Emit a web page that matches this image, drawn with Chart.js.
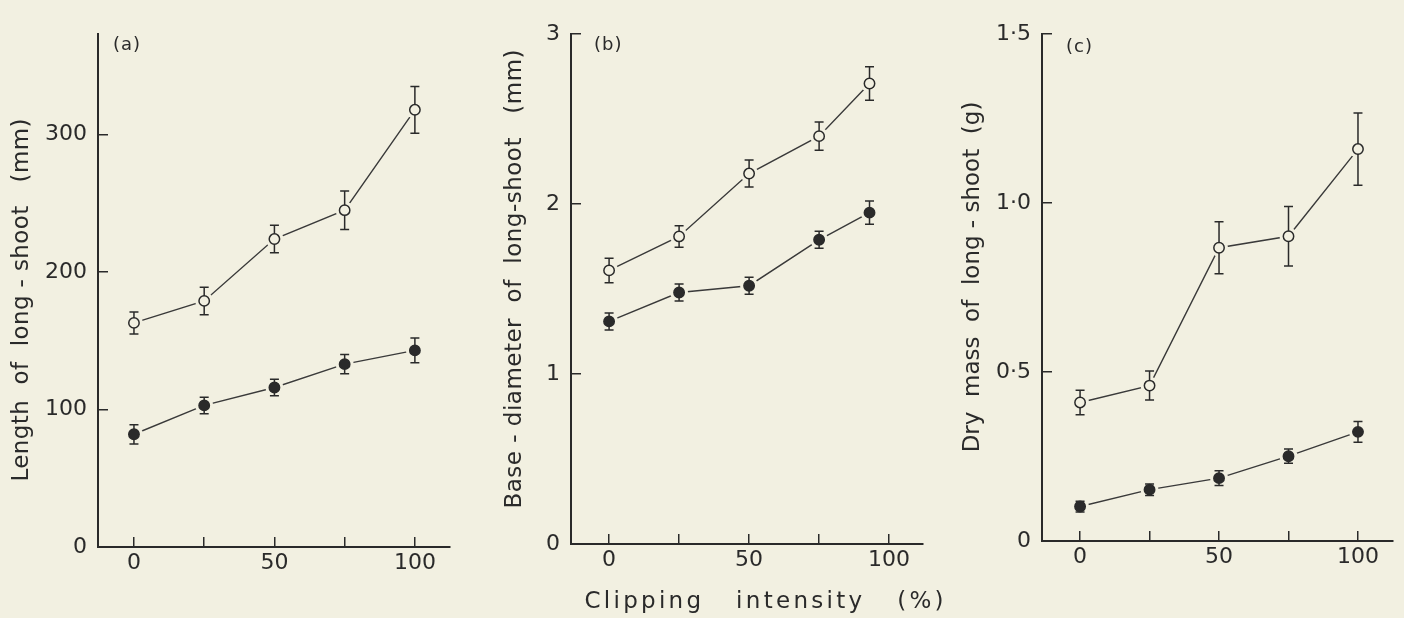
<!DOCTYPE html>
<html>
<head>
<meta charset="utf-8">
<script src="https://cdn.jsdelivr.net/npm/chart.js@4/dist/chart.umd.min.js"></script>
<style>
  html, body { margin: 0; padding: 0; background: #f2f0e1; }
  #wrap { position: relative; width: 1404px; height: 618px; overflow: hidden; }
  canvas { position: absolute; left: 0; top: 0; }
</style>
</head>
<body>
<div id="wrap">
  <canvas id="panelA" width="1404" height="618"></canvas>
  <canvas id="panelB" width="1404" height="618"></canvas>
  <canvas id="panelC" width="1404" height="618"></canvas>
</div>
<script>
// clipping intensity (%)
const clipX = [0, 25, 50, 75, 100];
const clipXB = [0, 25, 50, 75, 93];   // last points of (b) sit left of 100
const xTickValues = [0, 25, 50, 75, 100];
const xTickLabels = ['0', '', '50', '', '100'];

// (a) length of long-shoot (mm)
const lengthOpen = [163, 179, 224, 245, 318];
const lengthOpenErr = [8, 10, 10, 14, 17];
const lengthFilled = [82, 103, 116, 133, 143];
const lengthFilledErr = [7, 6, 6, 7, 9];
const lengthTicks = [0, 100, 200, 300];
const lengthTickLabels = ['0', '100', '200', '300'];

// (b) base-diameter of long-shoot (mm)
const diamOpen = [1.61, 1.81, 2.18, 2.40, 2.71];
const diamOpenErr = [0.072, 0.063, 0.079, 0.083, 0.098];
const diamFilled = [1.31, 1.48, 1.52, 1.79, 1.95];
const diamFilledErr = [0.05, 0.05, 0.05, 0.05, 0.068];
const diamTicks = [0, 1, 2, 3];
const diamTickLabels = ['0', '1', '2', '3'];

// (c) dry mass of long-shoot (g)
const massOpen = [0.41, 0.46, 0.868, 0.902, 1.16];
const massOpenErr = [0.036, 0.043, 0.077, 0.088, 0.107];
const massFilled = [0.102, 0.152, 0.186, 0.251, 0.323];
const massFilledErr = [0.016, 0.017, 0.022, 0.021, 0.031];
const massTicks = [0, 0.5, 1, 1.5];
const massTickLabels = ['0', '0\u00b75', '1\u00b70', '1\u00b75'];

const xTitle = 'Clipping   intensity   (%)';

const ink = '#2a2a2a';
const paper = '#f2f0e1';
const family = '"DejaVu Sans", sans-serif';

function pts(xs, ys) { return xs.map((x, i) => ({ x: x, y: ys[i] })); }

function spacedText(ctx, text, x, y, rot, font, span) {
  ctx.save();
  ctx.font = font;
  ctx.letterSpacing = '0px';
  const w = ctx.measureText(text).width;
  const ls = Math.max(0, (span - w) / (text.length - 1));
  ctx.letterSpacing = ls + 'px';
  ctx.fillStyle = ink;
  ctx.translate(x, y);
  ctx.rotate(rot);
  ctx.textAlign = 'center';
  ctx.textBaseline = 'middle';
  ctx.fillText(text, ls / 2, 0);
  ctx.restore();
}

// error bars (drawn from the marker edge outwards) + titles
const panelDecor = {
  id: 'panelDecor',
  afterDatasetsDraw(chart) {
    const ctx = chart.ctx, ys = chart.scales.y;
    ctx.save();
    ctx.strokeStyle = ink;
    ctx.lineWidth = 1.5;
    chart.data.datasets.forEach((ds, i) => {
      if (!ds.errors) return;
      chart.getDatasetMeta(i).data.forEach((pt, j) => {
        const v = ds.data[j].y, e = ds.errors[j];
        const top = ys.getPixelForValue(v + e), bot = ys.getPixelForValue(v - e);
        const r = 5;
        ctx.beginPath();
        if (pt.y - top > r) { ctx.moveTo(pt.x, pt.y - r); ctx.lineTo(pt.x, top); }
        if (bot - pt.y > r) { ctx.moveTo(pt.x, pt.y + r); ctx.lineTo(pt.x, bot); }
        ctx.moveTo(pt.x - 4.5, top); ctx.lineTo(pt.x + 4.5, top);
        ctx.moveTo(pt.x - 4.5, bot); ctx.lineTo(pt.x + 4.5, bot);
        ctx.stroke();
      });
    });
    ctx.restore();
  },
  afterDraw(chart, args, o) {
    const ctx = chart.ctx, area = chart.chartArea;
    spacedText(ctx, o.yTitle, area.left + o.yTitleDx, o.yTitleY, -Math.PI / 2, '23px ' + family, o.yTitleSpan);
    ctx.save();
    ctx.font = '18px ' + family;
    ctx.letterSpacing = '1px';
    ctx.fillStyle = ink;
    ctx.textAlign = 'left';
    ctx.textBaseline = 'middle';
    ctx.fillText(o.tag, area.left + o.tagDx, area.top + o.tagDy);
    ctx.restore();
    if (o.xTitle) spacedText(ctx, o.xTitle, o.xTitleX, o.xTitleY, 0, '23px ' + family, o.xTitleSpan);
  }
};

function makePanel(id, p) {
  const lineSet = ys => ({
    data: pts(p.x, ys), showLine: true, borderColor: '#3a3a3a', borderWidth: 1.4,
    pointRadius: 9, pointHoverRadius: 9, pointBackgroundColor: paper, pointBorderWidth: 0, order: 2
  });
  const markSet = (ys, errs, filled) => ({
    data: pts(p.x, ys), errors: errs, showLine: false,
    pointRadius: 5.2, pointHoverRadius: 5.2, pointBackgroundColor: filled ? ink : paper,
    pointBorderColor: ink, pointBorderWidth: 1.5, order: 1
  });
  const tickFont = { family: family, size: 22 };
  new Chart(document.getElementById(id), {
    type: 'scatter',
    data: {
      datasets: [
        lineSet(p.open), lineSet(p.filled),
        markSet(p.open, p.openErr, false), markSet(p.filled, p.filledErr, true)
      ]
    },
    options: {
      responsive: false, animation: false, events: [],
      layout: { padding: p.pad },
      plugins: { legend: { display: false }, tooltip: { enabled: false }, panelDecor: p.decor },
      scales: {
        x: {
          type: 'linear', min: p.xMin, max: p.xMax,
          afterBuildTicks: s => { s.ticks = xTickValues.map(v => ({ value: v })); },
          afterFit: s => { s.height = p.xHeight; },
          ticks: {
            callback: v => xTickLabels[xTickValues.indexOf(v)],
            font: tickFont, color: ink, padding: 13, maxRotation: 0, autoSkip: false
          },
          grid: { drawOnChartArea: false, tickLength: -10, color: ink, lineWidth: 1.5 },
          border: { color: ink, width: 2 }
        },
        y: {
          type: 'linear', min: 0, max: p.yMax,
          afterBuildTicks: s => { s.ticks = p.yTicks.map(v => ({ value: v })); },
          afterFit: s => { s.width = p.yWidth; },
          ticks: {
            callback: v => p.yLabels[p.yTicks.indexOf(v)],
            font: tickFont, color: ink, padding: 21, autoSkip: false
          },
          grid: { drawOnChartArea: false, tickLength: -10, color: ink, lineWidth: 1.5 },
          border: { color: ink, width: 2 }
        }
      }
    },
    plugins: [panelDecor]
  });
}

makePanel('panelA', {
  x: clipX, open: lengthOpen, openErr: lengthOpenErr, filled: lengthFilled, filledErr: lengthFilledErr,
  xMin: -12.8, xMax: 112.5, yMax: 373, yTicks: lengthTicks, yLabels: lengthTickLabels,
  pad: { left: 0, right: 954, top: 22, bottom: 0 }, yWidth: 98, xHeight: 71,
  decor: { yTitle: 'Length  of  long - shoot   (mm)', yTitleDx: -76, yTitleY: 300, yTitleSpan: 363,
           tag: '(a)', tagDx: 15, tagDy: 11 }
});

makePanel('panelB', {
  x: clipXB, open: diamOpen, openErr: diamOpenErr, filled: diamFilled, filledErr: diamFilledErr,
  xMin: -13.6, xMax: 112.1, yMax: 3, yTicks: diamTicks, yLabels: diamTickLabels,
  pad: { left: 471, right: 481, top: 18, bottom: 0 }, yWidth: 100, xHeight: 74,
  decor: { yTitle: 'Base - diameter  of  long-shoot   (mm)', yTitleDx: -56, yTitleY: 279, yTitleSpan: 459,
           tag: '(b)', tagDx: 23, tagDy: 11,
           xTitle: xTitle, xTitleX: 764, xTitleY: 602, xTitleSpan: 359 }
});

makePanel('panelC', {
  x: clipX, open: massOpen, openErr: massOpenErr, filled: massFilled, filledErr: massFilledErr,
  xMin: -13.7, xMax: 112.6, yMax: 1.5, yTicks: massTicks, yLabels: massTickLabels,
  pad: { left: 940, right: 11, top: 16, bottom: 0 }, yWidth: 102, xHeight: 77,
  decor: { yTitle: 'Dry  mass  of  long - shoot  (g)', yTitleDx: -69, yTitleY: 277, yTitleSpan: 345,
           tag: '(c)', tagDx: 24, tagDy: 13 }
});
</script>
</body>
</html>
